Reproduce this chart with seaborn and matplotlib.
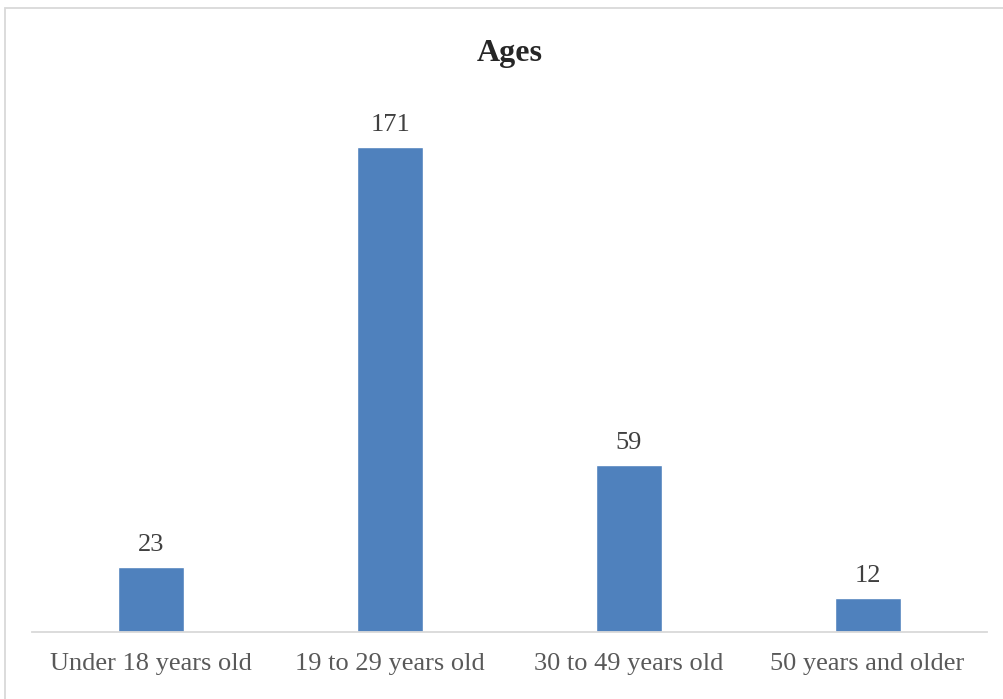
import matplotlib
matplotlib.use("Agg")
import matplotlib.pyplot as plt
import seaborn as sns
import pandas as pd
from matplotlib.patches import Rectangle

# data
categories = ["Under 18 years old", "19 to 29 years old", "30 to 49 years old", "50 years and older"]
counts = [23, 171, 59, 12]

W, H = 1004, 699

sns.set_theme(style="white")
plt.rcParams["font.family"] = ["Liberation Serif", "DejaVu Serif"]

df = pd.DataFrame({"age": categories, "count": counts})

fig = plt.figure(figsize=(W / 100, H / 100), dpi=100)
fig.patch.set_facecolor("white")

# axes placed so baseline at y=632 px, x range 32..987 px
ax = fig.add_axes([32 / W, (H - 632) / H, (987 - 32) / W, 567 / H])
sns.barplot(data=df, x="age", y="count", color="#4F81BD", saturation=1,
            width=0.277, ax=ax)
ax.set_xlim(-0.5, 3.5)
ax.set_ylim(0, 200)

for i, v in enumerate(counts):
    ax.annotate(str(v), (i, v), xytext=(0, 8), textcoords="offset points",
                ha="center", va="bottom", fontsize=19, color="#404040")

ax.set_xlabel("")
ax.set_ylabel("")
ax.set_yticks([])
ax.tick_params(axis="x", length=0, labelsize=19, labelcolor="#595959", pad=15)
for side in ["top", "left", "right"]:
    ax.spines[side].set_visible(False)
ax.spines["bottom"].set_color("#D9D9D9")
ax.spines["bottom"].set_linewidth(1.3)

fig.text(510 / W, 1 - 53 / H, "Ages", ha="center", va="center",
         fontsize=23, fontweight="bold", color="#262626")

# chart frame
fig.patches.append(Rectangle((5 / W, -0.05), 1.1, 1 - 8 / H + 0.05,
                             transform=fig.transFigure, fill=False,
                             edgecolor="#D9D9D9", linewidth=1.3))

fig.savefig("out.png", dpi=100)
